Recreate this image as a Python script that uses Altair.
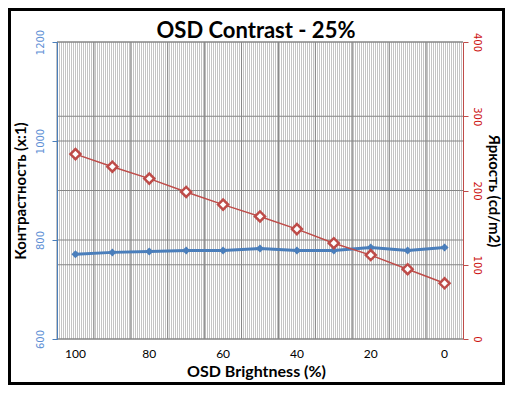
import altair as alt
import pandas as pd

# ---- data ----
brightness = [100, 90, 80, 70, 60, 50, 40, 30, 20, 10, 0]
contrast = [771, 775, 777, 779, 779, 783, 779, 779, 785, 779, 785]
luminance = [249, 232, 216, 198, 181, 165, 148, 129, 113, 94, 75]
contrast_ticks = [600, 800, 1000, 1200]
luminance_ticks = [0, 100, 200, 300, 400]

title_text = "OSD Contrast - 25%"
x_title = "OSD Brightness (%)"
left_title = "Контрастность (x:1)"
right_title = "Яркость (cd/m2)"

# ---- styling ----
W, H = 406, 297
PAD = {"left": 49, "top": 34, "right": 42, "bottom": 46}
BLUE = "#4A7EBB"
LBLUE = "#5E8FD5"
RED = "#BE4B48"
LRED = "#CC1010"
GRID = "#868686"
STRIPE = "#c4c4c4"

df = pd.DataFrame({"b": brightness, "contrast": contrast, "lum": luminance})
grid_x = pd.DataFrame({"b": brightness})
grid_l = pd.DataFrame({"contrast": contrast_ticks})
grid_r = pd.DataFrame({"lum": luminance_ticks})
one = alt.Data(values=[{"k": 0}])

stops = []
for k in range(W // 2):
    a, m, e = 2 * k / W, (2 * k + 1) / W, (2 * k + 2) / W
    stops += [
        alt.GradientStop(offset=a, color=STRIPE),
        alt.GradientStop(offset=m, color=STRIPE),
        alt.GradientStop(offset=m, color="#ffffff"),
        alt.GradientStop(offset=e, color="#ffffff"),
    ]
stripes = alt.LinearGradient(gradient="linear", x1=0, y1=0, x2=1, y2=0, stops=stops)

xscale = alt.Scale(domain=brightness, paddingInner=0, paddingOuter=0)
xaxis = alt.Axis(
    title=x_title, labelAngle=0,
    labelExpr="datum.value % 20 == 0 ? datum.label : ''",
    grid=False, domain=False, ticks=False, tickSize=0,
    labelPadding=14, labelBaseline="middle", labelFont="Lato", labelFontSize=12,
    labelColor="#000000", labelOverlap=False,
    titleFont="Lato", titleFontSize=16, titleFontWeight="bold", titleColor="#000000",
    titleX=W / 2 - 4, titleY=32, titleBaseline="middle", titleAlign="center",
)

laxis = alt.Axis(
    orient="left", title=left_title, values=contrast_ticks, format="d", grid=False, zindex=1,
    domainColor=BLUE, domainWidth=1, tickColor=BLUE, tickSize=5,
    labelAngle=270, labelAlign="center", labelBaseline="bottom", labelPadding=7,
    labelFont="DejaVu Sans", labelFontSize=10, labelColor=LBLUE,
    titleFont="Lato", titleFontSize=15, titleFontWeight="bold", titleColor="#000000",
    titleAngle=270, titleX=-37, titleY=H / 2, titleAlign="center", titleBaseline="middle",
)
raxis = alt.Axis(
    orient="right", title=right_title, values=luminance_ticks, format="d", grid=False, zindex=1,
    domainColor=RED, domainWidth=1, tickColor=RED, tickSize=5,
    labelAngle=90, labelAlign="center", labelBaseline="bottom", labelPadding=3,
    labelFont="DejaVu Sans", labelFontSize=10, labelColor=LRED,
    titleFont="Lato", titleFontSize=15, titleFontWeight="bold", titleColor="#000000",
    titleAngle=90, titleX=30, titleY=H / 2, titleAlign="center", titleBaseline="middle",
)
lscale = alt.Scale(domain=[600, 1200])
rscale = alt.Scale(domain=[0, 400])

bg = alt.Chart(one).mark_rect(fill=stripes).encode(
    x=alt.value(0), x2=alt.value(W), y=alt.value(0), y2=alt.value(H)
)
vgrid = alt.Chart(grid_x).mark_rule(color=GRID, strokeWidth=1).encode(
    x=alt.X("b:O", scale=xscale, axis=xaxis, bandPosition=0)
)
hgrid_l = alt.Chart(grid_l).mark_rule(color=GRID, strokeWidth=1).encode(
    y=alt.Y("contrast:Q", scale=lscale, axis=laxis)
)
blue_line = alt.Chart(df).mark_line(color=BLUE, strokeWidth=3).encode(
    x=alt.X("b:O", scale=xscale, axis=xaxis),
    y=alt.Y("contrast:Q", scale=lscale, axis=laxis),
)
blue_pts = alt.Chart(df).mark_point(
    shape="diamond", filled=True, size=64, color=BLUE, opacity=1
).encode(
    x=alt.X("b:O", scale=xscale, axis=xaxis),
    y=alt.Y("contrast:Q", scale=lscale, axis=laxis),
)

hgrid_r = alt.Chart(grid_r).mark_rule(color=GRID, strokeWidth=1).encode(
    y=alt.Y("lum:Q", scale=rscale, axis=raxis)
)
red_line = alt.Chart(df).mark_line(color=RED, strokeWidth=1.5).encode(
    x=alt.X("b:O", scale=xscale, axis=xaxis),
    y=alt.Y("lum:Q", scale=rscale, axis=raxis),
)
red_pts = alt.Chart(df).mark_point(
    shape="diamond", filled=True, fill="#ffffff", stroke=RED, strokeWidth=2.5,
    size=100, opacity=1
).encode(
    x=alt.X("b:O", scale=xscale, axis=xaxis),
    y=alt.Y("lum:Q", scale=rscale, axis=raxis),
)
frame = alt.Chart(one).mark_rect(filled=False, stroke="#000000", strokeWidth=3).encode(
    x=alt.value(-PAD["left"] + 1.5), x2=alt.value(W + PAD["right"] - 1.5),
    y=alt.value(-PAD["top"] + 1.5), y2=alt.value(H + PAD["bottom"] - 1.5),
)

left = alt.layer(bg, vgrid, hgrid_l, blue_line, blue_pts)
right = alt.layer(hgrid_r, red_line, red_pts, frame)

chart = (
    alt.layer(left, right)
    .resolve_scale(y="independent")
    .properties(
        width=W, height=H, padding=PAD,
        autosize=alt.AutoSizeParams(type="none"),
        title=alt.TitleParams(
            text=title_text, font="Lato", fontSize=22, fontWeight="bold",
            color="#000000", anchor="middle", frame="group",
            baseline="alphabetic", offset=7, dx=-4, dy=59,
        ),
    )
    .configure_view(strokeWidth=0)
)

chart.save("out.html", embed_options={"renderer": "svg", "actions": False})
